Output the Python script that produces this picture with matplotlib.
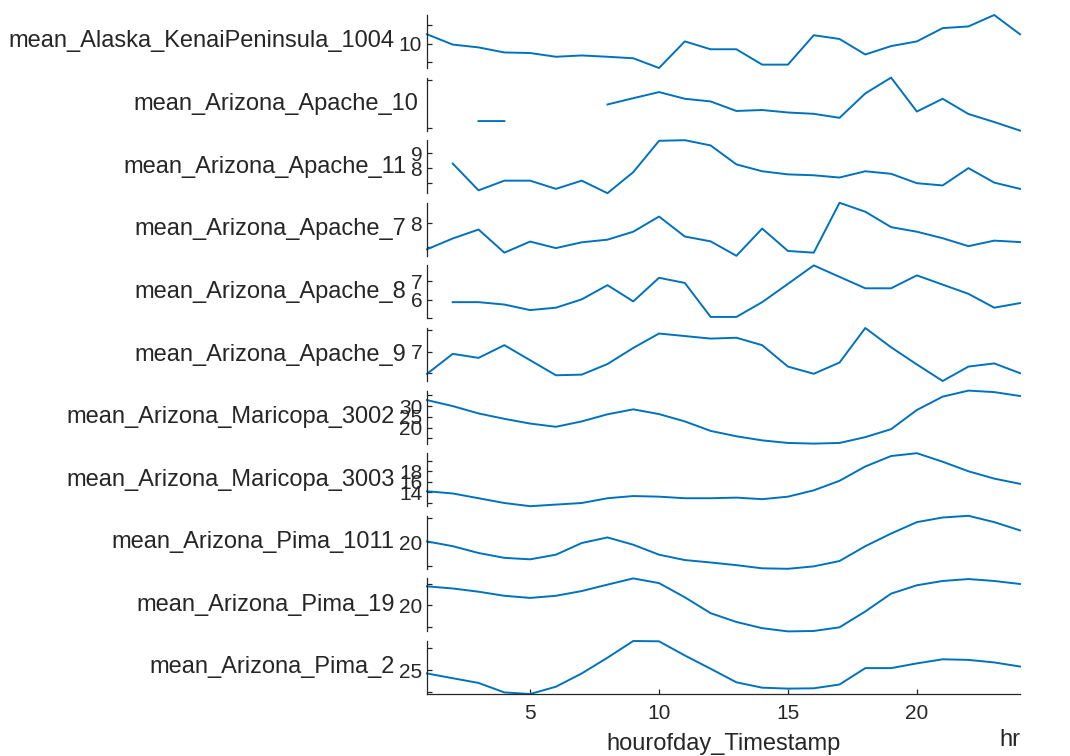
import numpy as np
import matplotlib
matplotlib.use('Agg')
import matplotlib.pyplot as plt

nan = np.nan
hours = list(range(1, 25))

names = ["mean_Alaska_KenaiPeninsula_1004", "mean_Arizona_Apache_10",
         "mean_Arizona_Apache_11", "mean_Arizona_Apache_7",
         "mean_Arizona_Apache_8", "mean_Arizona_Apache_9",
         "mean_Arizona_Maricopa_3002", "mean_Arizona_Maricopa_3003",
         "mean_Arizona_Pima_1011", "mean_Arizona_Pima_19", "mean_Arizona_Pima_2"]

alaska_kenai_1004 = [10.5, 9.95, 9.8, 9.53, 9.5, 9.3, 9.37, 9.3, 9.22, 8.7, 10.12, 9.7,
                     9.7, 8.88, 8.88, 10.45, 10.25, 9.42, 9.87, 10.12, 10.83, 10.92, 11.53, 10.5]
apache_10 = [nan, nan, 8.8, 8.8, nan, nan, nan, 9.67, 10.0, 10.32, 9.97, 9.83,
             9.33, 9.38, 9.25, 9.18, 8.97, 10.25, 11.08, 9.3, 9.97, 9.17, 8.75, 8.3]
apache_11 = [nan, 8.31, 6.52, 7.17, 7.17, 6.62, 7.17, 6.33, 7.74, 9.84, 9.88, 9.53,
             8.26, 7.8, 7.59, 7.53, 7.38, 7.8, 7.63, 7.0, 6.85, 8.01, 7.04, 6.62]
apache_7 = [6.91, 7.36, 7.73, 6.77, 7.23, 6.96, 7.2, 7.31, 7.64, 8.27, 7.44, 7.24,
            6.64, 7.77, 6.84, 6.77, 8.84, 8.47, 7.83, 7.64, 7.37, 7.04, 7.27, 7.21]
apache_8 = [nan, 5.88, 5.88, 5.75, 5.45, 5.58, 6.03, 6.8, 5.92, 7.2, 6.92, 5.08,
            5.08, 5.88, 6.87, 7.87, 7.25, 6.63, 6.63, 7.33, 6.83, 6.33, 5.58, 5.83]
apache_9 = [5.95, 6.89, 6.7, 7.3, 6.59, 5.88, 5.91, 6.41, 7.17, 7.85, 7.73, 7.61,
            7.65, 7.3, 6.29, 5.95, 6.48, 8.11, 7.2, 6.39, 5.61, 6.29, 6.44, 5.98]
maricopa_3002 = [32.8, 30.0, 26.6, 24.1, 21.9, 20.4, 22.9, 26.2, 28.5, 26.3, 22.9, 18.5,
                 16.0, 14.1, 12.9, 12.6, 12.9, 15.6, 19.3, 28.2, 34.4, 37.2, 36.5, 34.7]
maricopa_3003 = [14.18, 13.76, 12.85, 11.94, 11.33, 11.64, 11.94, 12.85, 13.27, 13.15, 12.85, 12.85,
                 12.97, 12.67, 13.15, 14.36, 16.18, 18.91, 20.91, 21.45, 19.82, 18.0, 16.6, 15.6]
pima_1011 = [20.26, 18.3, 15.5, 13.5, 12.9, 14.8, 19.6, 21.9, 18.9, 14.8, 12.6, 11.6,
             10.5, 9.2, 9.0, 10.0, 12.2, 18.3, 23.5, 28.2, 30.1, 30.8, 28.2, 24.8]
pima_19 = [28.8, 27.8, 26.3, 24.4, 23.4, 24.4, 26.6, 29.6, 32.5, 30.3, 23.7, 16.3,
           12.2, 9.3, 7.8, 8.0, 9.7, 17.1, 25.4, 29.3, 31.3, 32.2, 31.3, 29.9]
pima_2 = [24.29, 23.21, 22.14, 20.0, 19.64, 21.29, 24.29, 27.86, 31.64, 31.57, 28.36, 25.36,
          22.29, 21.07, 20.86, 20.93, 21.79, 25.5, 25.5, 26.57, 27.5, 27.36, 26.79, 25.86]

series = [alaska_kenai_1004, apache_10, apache_11, apache_7, apache_8, apache_9,
          maricopa_3002, maricopa_3003, pima_1011, pima_19, pima_2]

ytick_values = [[9, 10, 11], [8.42, 10.95], [7, 8, 9], [7, 8], [5, 6, 7], [6, 7, 8],
                [15, 20, 25, 30, 35], [12, 14, 16, 18, 20], [10, 20, 30], [10, 20, 30],
                [20, 25, 30]]
ytick_labels = [['', '10', ''], ['', ''], ['', '8', '9'], ['', '8'], ['', '6', '7'],
                ['', '7', ''], ['', '20', '25', '30', ''], ['', '14', '16', '18', ''],
                ['', '20', ''], ['', '20', ''], ['', '25', '']]

xticks = [5, 10, 15, 20]
xlabel_text = "hourofday_Timestamp"
unit_text = "hr"

plt.rcParams['font.family'] = ['Liberation Sans', 'DejaVu Sans']
dark = '#262626'
line_color = '#0072BD'

W, H = 1070, 756
fig = plt.figure(figsize=(W / 100, H / 100), dpi=100)
left_px, right_px = 427, 1020
top0, step, hpx = 15, 62.6, 53

n = len(series)
for i in range(n):
    top = top0 + i * step
    ax = fig.add_axes([left_px / W, 1 - (top + hpx) / H, (right_px - left_px) / W, hpx / H])
    v = np.array(series[i], dtype=float)
    ax.plot(hours, v, color=line_color, lw=1.4, clip_on=False)
    ax.set_xlim(1, 24)
    ax.set_ylim(np.nanmin(v), np.nanmax(v))
    for s in ['top', 'right']:
        ax.spines[s].set_visible(False)
    ax.spines['left'].set_color(dark)
    ax.spines['left'].set_linewidth(0.9)
    ax.set_yticks(ytick_values[i])
    ax.set_yticklabels(ytick_labels[i])
    ax.tick_params(axis='y', direction='in', length=3.5, width=0.9, colors=dark,
                   labelsize=15, pad=3.5)
    ax.set_ylabel(names[i], rotation=0, ha='right', va='center', fontsize=17,
                  color=dark, labelpad=3)
    ax.patch.set_visible(False)
    if i < n - 1:
        ax.spines['bottom'].set_visible(False)
        ax.set_xticks([])
    else:
        ax.spines['bottom'].set_color(dark)
        ax.spines['bottom'].set_linewidth(0.9)
        ax.set_xticks(xticks)
        ax.tick_params(axis='x', direction='in', length=3.5, width=0.9, colors=dark,
                       labelsize=15, pad=7)

fig.text((left_px + right_px) / 2 / W, 1 - 744 / H, xlabel_text, ha='center', va='center',
         fontsize=17, color=dark)
fig.text(1020 / W, 1 - 740 / H, unit_text, ha='right', va='center', fontsize=17, color=dark)

fig.savefig('out.png', dpi=100)
